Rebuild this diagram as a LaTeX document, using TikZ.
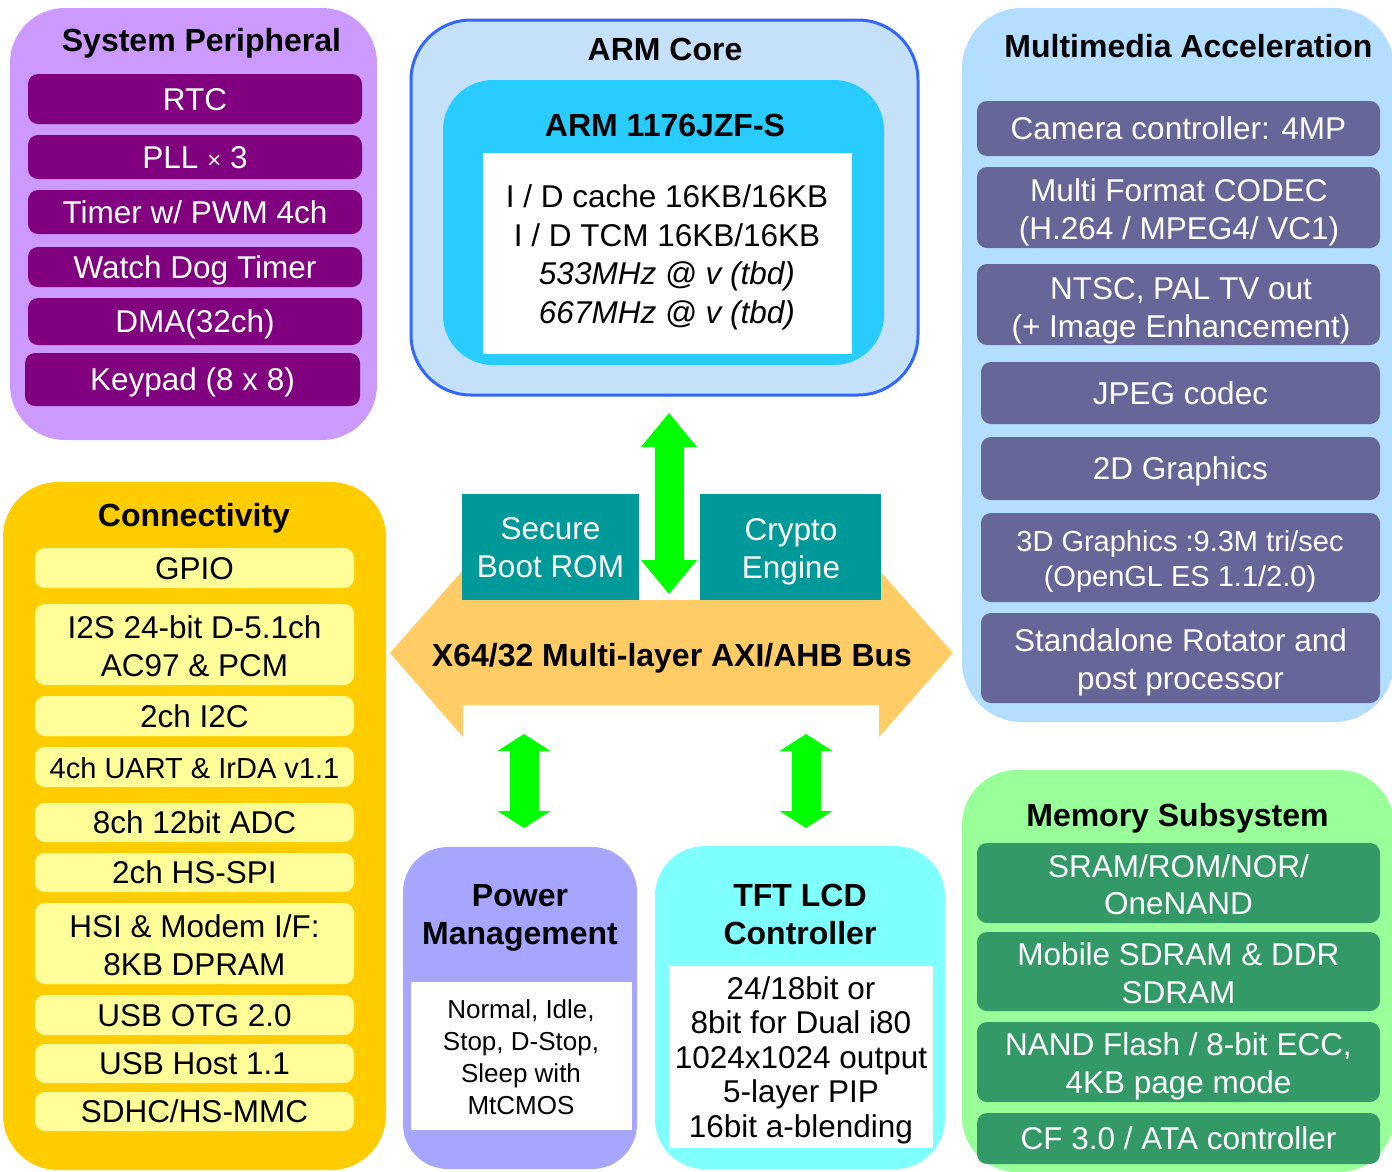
\documentclass[tikz,border=0pt]{standalone}
\usepackage{fontspec}
\setmainfont{Liberation Sans}
\usetikzlibrary{arrows.meta}
\definecolor{sysbg}{HTML}{CC99FF}
\definecolor{sysit}{HTML}{800080}
\definecolor{armln}{HTML}{3366FF}
\definecolor{armbg}{HTML}{C5E1FA}
\definecolor{armin}{HTML}{29CCFF}
\definecolor{mmbg}{HTML}{B3DEFF}
\definecolor{mmit}{HTML}{666699}
\definecolor{conbg}{HTML}{FFCC00}
\definecolor{conit}{HTML}{FFFF99}
\definecolor{busc}{HTML}{FFCC66}
\definecolor{tealc}{HTML}{009999}
\definecolor{grn}{HTML}{00FF00}
\definecolor{pwrbg}{HTML}{A6A6FF}
\definecolor{tftbg}{HTML}{7FFFFF}
\definecolor{membg}{HTML}{99FF99}
\definecolor{memit}{HTML}{339966}
\begin{document}
\begin{tikzpicture}[x=1pt,y=-1pt,
  tfont/.style={font=\fontsize{32}{38}\selectfont\bfseries},
  bfont/.style={font=\fontsize{31.5}{38}\selectfont},
  panel/.style={inner sep=0pt},
  item/.style={inner sep=0pt, rounded corners=10pt, bfont, text height=22.5pt, text depth=0pt},
  box/.style={inner sep=0pt, rounded corners=10pt},
  txt/.style={inner sep=0pt, align=center, bfont},
  ttl/.style={inner sep=0pt, align=center, tfont},
  ttlone/.style={ttl, text height=23pt, text depth=0pt},
  pit/.style={item, fill=sysit, text=white, minimum width=334pt},
  cit/.style={item, fill=conit, minimum width=319pt},
  mit/.style={item, fill=mmit, text=white},
  garrow/.style={draw=grn, line width=29pt, {Triangle[width=56pt,length=34pt,line width=0pt]}-{Triangle[width=56pt,length=34pt,line width=0pt]}},
  garrowsm/.style={draw=grn, line width=29pt, {Triangle[width=53pt,length=17pt,line width=0pt]}-{Triangle[width=53pt,length=17pt,line width=0pt]}},
]
\useasboundingbox (0,0) rectangle (1392,1171);
\clip (0,0) rectangle (1392,1171);

% ---------------- System Peripheral
\node[panel, fill=sysbg, rounded corners=55pt, minimum width=367pt, minimum height=432pt] (sysp) at (193.5,224) {};
\node[ttlone] (sysp-t) at (201.5,40) {System Peripheral};
\node[pit, minimum height=50pt] (rtc) at (195,99) {RTC};
\node[pit, minimum height=44pt] (pll) at (195,157) {PLL {\fontsize{24}{24}\selectfont ×} 3};
\node[pit, minimum height=44pt] (timer) at (195,212) {Timer w/ PWM 4ch};
\node[pit, minimum height=40pt] (wdt) at (195,267) {Watch Dog Timer};
\node[pit, minimum height=47pt] (dma) at (195,321.5) {DMA(32ch)};
\node[pit, minimum width=335pt, minimum height=53pt] (keypad) at (192.5,379.5) {Keypad (8 x 8)};

% ---------------- ARM Core
\node[panel, draw=armln, line width=3pt, fill=armbg, rounded corners=60pt, minimum width=507pt, minimum height=375pt] (arm) at (664.5,207.5) {};
\node[ttlone] (arm-t) at (665,49) {ARM Core};
\node[panel, fill=armin, rounded corners=50pt, minimum width=441pt, minimum height=285pt] (cpu) at (663.5,222.5) {};
\node[ttlone] (cpu-t) at (665,125) {ARM 1176JZF-S};
\node[panel, fill=white, minimum width=369pt, minimum height=201pt] (cpu-w) at (667.5,253.5) {};
\node[txt, font=\fontsize{31.5}{38.5}\selectfont] (cpu-x) at (667,257.5) {I / D cache 16KB/16KB\\I / D TCM 16KB/16KB\\\textit{533MHz @ v (tbd)}\\\textit{667MHz @ v (tbd)}};

% ---------------- Multimedia Acceleration
\node[panel, fill=mmbg, rounded corners=60pt, minimum width=432pt, minimum height=714pt] (mm) at (1178,365) {};
\node[ttlone] (mm-t) at (1188.5,46) {Multimedia Acceleration};
\node[mit, minimum width=403pt, minimum height=55pt] (cam) at (1178.5,128.5) {Camera controller: 4MP};
\node[box, fill=mmit, minimum width=403pt, minimum height=81pt] (mfc) at (1178.5,207.5) {};
\node[txt, text=white] (mfc-t) at (1179,212.3) {Multi Format CODEC\\(H.264 / MPEG4/ VC1)};
\node[box, fill=mmit, minimum width=403pt, minimum height=81pt] (tv) at (1178.5,304.5) {};
\node[txt, text=white] (tv-t) at (1181,310.3) {NTSC, PAL TV out\\(+ Image Enhancement)};
\node[mit, minimum width=399pt, minimum height=62pt] (jpeg) at (1180.5,393) {JPEG codec};
\node[mit, minimum width=399pt, minimum height=63pt] (g2d) at (1180.5,468.5) {2D Graphics};
\node[box, fill=mmit, minimum width=399pt, minimum height=89pt] (g3d) at (1180.5,557.5) {};
\node[txt, text=white, font=\fontsize{29}{35}\selectfont] (g3d-t) at (1180,561.5) {3D Graphics :9.3M tri/sec\\(OpenGL ES 1.1/2.0)};
\node[box, fill=mmit, minimum width=399pt, minimum height=90pt] (rot) at (1180.5,658) {};
\node[txt, text=white] (rot-t) at (1180.5,662.3) {Standalone Rotator and\\post processor};

% ---------------- Connectivity
\node[panel, fill=conbg, rounded corners=55pt, minimum width=383pt, minimum height=688pt] (conn) at (194.5,826) {};
\node[ttlone] (conn-t) at (194,515) {Connectivity};
\node[cit, minimum height=40pt] (gpio) at (194.5,568) {GPIO};
\node[box, fill=conit, minimum width=319pt, minimum height=81pt] (i2s) at (194.5,644.5) {};
\node[txt] (i2s-t) at (194.5,646) {I2S 24-bit D-5.1ch\\AC97 \& PCM};
\node[cit, minimum height=40pt] (i2c) at (194.5,716) {2ch I2C};
\node[cit, minimum height=40pt, font=\fontsize{29}{35}\selectfont] (uart) at (194.5,767) {4ch UART \& IrDA v1.1};
\node[cit, minimum height=39pt] (adc) at (194.5,822.5) {8ch 12bit ADC};
\node[cit, minimum height=39pt] (spi) at (194.5,872.5) {2ch HS-SPI};
\node[box, fill=conit, minimum width=319pt, minimum height=81pt] (hsi) at (194.5,943.5) {};
\node[txt] (hsi-t) at (194.5,945) {HSI \& Modem I/F:\\8KB DPRAM};
\node[cit, minimum height=40pt] (otg) at (194.5,1015) {USB OTG 2.0};
\node[cit, minimum height=39pt] (host) at (194.5,1063.5) {USB Host 1.1};
\node[cit, minimum height=39pt] (sdhc) at (194.5,1111.5) {SDHC/HS-MMC};

% ---------------- Bus
\fill[busc] (390,653) -- (463,570) -- (463,600) -- (879,600) -- (879,570) -- (953,653)
  -- (879,737) -- (879,705) -- (463,705) -- (463,737) -- cycle;
\node[ttlone] (bus) at (672,655) {X64/32 Multi-layer AXI/AHB Bus};
\node[panel, fill=tealc, minimum width=177pt, minimum height=106pt] (sboot) at (550.5,547) {};
\node[txt, text=white] (sboot-t) at (550.5,548) {Secure\\Boot ROM};
\node[panel, fill=tealc, minimum width=181pt, minimum height=106pt] (crypto) at (790.5,547) {};
\node[txt, text=white] (crypto-t) at (791,551.3) {Crypto\\Engine};

% ---------------- Green arrows
\coordinate (armlink-a) at (669,413);
\coordinate (armlink-b) at (669,594);
\draw[garrow] (armlink-a) -- (armlink-b);
\coordinate (pwrlink-a) at (524,734);
\coordinate (pwrlink-b) at (524,828);
\draw[garrowsm] (pwrlink-a) -- (pwrlink-b);
\coordinate (tftlink-a) at (806,734);
\coordinate (tftlink-b) at (806,828);
\draw[garrowsm] (tftlink-a) -- (tftlink-b);

% ---------------- Power Management
\node[panel, fill=pwrbg, rounded corners=45pt, minimum width=234pt, minimum height=322pt] (pwr) at (520,1008) {};
\node[ttl] (pwr-t) at (520,917.4) {Power\\Management};
\node[panel, fill=white, minimum width=221pt, minimum height=148pt] (pwr-w) at (521.5,1056) {};
\node[txt, font=\fontsize{26}{32}\selectfont] (pwr-x) at (521,1057) {Normal, Idle,\\Stop, D-Stop,\\Sleep with\\MtCMOS};

% ---------------- TFT LCD Controller
\node[panel, fill=tftbg, rounded corners=50pt, minimum width=290pt, minimum height=323pt] (tft) at (800,1007.5) {};
\node[ttl] (tft-t) at (800,914) {TFT LCD\\Controller};
\node[panel, fill=white, minimum width=264pt, minimum height=182pt] (tft-w) at (801,1057) {};
\node[txt, font=\fontsize{31.5}{34.5}\selectfont] (tft-x) at (801,1060) {24/18bit or\\8bit for Dual i80\\1024x1024 output\\5-layer PIP\\16bit a-blending};

% ---------------- Memory Subsystem
\node[panel, fill=membg, rounded corners=55pt, minimum width=432pt, minimum height=402pt] (mem) at (1178,971) {};
\node[ttlone] (mem-t) at (1177.5,815) {Memory Subsystem};
\node[box, fill=memit, minimum width=403pt, minimum height=80pt] (sram) at (1178.5,883) {};
\node[txt, text=white, font=\fontsize{31.5}{37}\selectfont] (sram-t) at (1178.5,884.5) {SRAM/ROM/NOR/\\OneNAND};
\node[box, fill=memit, minimum width=403pt, minimum height=79pt] (sdram) at (1178.5,971.5) {};
\node[txt, text=white, font=\fontsize{31.5}{38}\selectfont] (sdram-t) at (1178.5,973) {Mobile SDRAM \& DDR\\SDRAM};
\node[box, fill=memit, minimum width=403pt, minimum height=80pt] (nand) at (1178.5,1062) {};
\node[txt, text=white] (nand-t) at (1178.5,1066.3) {NAND Flash / 8-bit ECC,\\4KB page mode};
\node[item, fill=memit, text=white, minimum width=403pt, minimum height=51pt] (cf) at (1178.5,1138.5) {CF 3.0 / ATA controller};
\end{tikzpicture}
\end{document}
